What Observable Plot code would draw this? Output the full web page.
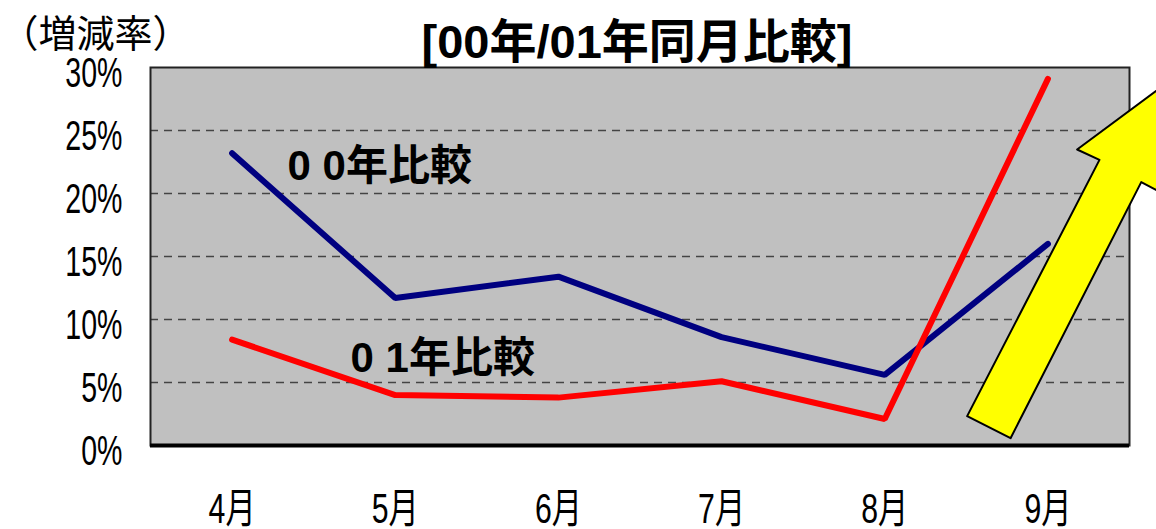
<!DOCTYPE html>
<html>
<head>
<meta charset="utf-8">
<script src="https://cdn.jsdelivr.net/npm/d3@7"></script>
<script src="https://cdn.jsdelivr.net/npm/@observablehq/plot@0.6"></script>
<style>
  html, body { margin: 0; padding: 0; background: #fff; }
</style>
</head>
<body>
<div id="chart"></div>
<script>
// Months (x categories as month numbers)
const months = [4, 5, 6, 7, 8, 9];
const monthLabels = ["4月", "5月", "6月", "7月", "8月", "9月"];
// Series values (% change)
const vs2000 = [23.2, 11.7, 13.4, 8.6, 5.6, 16.0];   // ００年比較
const vs2001 = [8.4, 4.0, 3.8, 5.1, 2.1, 29.1];      // ０１年比較
const yTicks = [0, 5, 10, 15, 20, 25, 30];
const yTickLabels = ["0%", "5%", "10%", "15%", "20%", "25%", "30%"];
const seriesNames = ["0 0年比較", "0 1年比較"];
const titleText = "[00年/01年同月比較]";
const yUnitText = "（増減率）";
// decorative upward arrow outline, in data units (month, %)
const arrowMonth = [8.505, 8.771, 9.572, 9.699, 9.708, 9.179, 9.316];
const arrowPct   = [2.33, 0.58, 20.90, 20.05, 28.57, 23.49, 22.67];

const rows00 = months.map((m, i) => ({month: m, value: vs2000[i]}));
const rows01 = months.map((m, i) => ({month: m, value: vs2001[i]}));
const arrow = arrowMonth.map((m, i) => ({month: m, value: arrowPct[i]}));

const FONT = "'Liberation Sans', 'Noto Sans CJK JP', sans-serif";

const chart = Plot.plot({
  width: 1156,
  height: 529,
  marginLeft: 150,
  marginRight: 27,
  marginTop: 67,
  marginBottom: 84,
  style: {fontFamily: FONT, background: "#fff", overflow: "visible"},
  x: {type: "linear", domain: [3.5, 9.5], label: null},
  y: {domain: [0, 30], label: null},
  marks: [
    Plot.frame({fill: "#C0C0C0"}),
    Plot.ruleY(yTicks.filter(d => d > 0 && d < 30), {stroke: "#444", strokeWidth: 1.3, strokeDasharray: "8,6"}),
    Plot.frame({stroke: "#222", strokeWidth: 2}),
    Plot.ruleY([0], {stroke: "#000", strokeWidth: 4}),
    Plot.line(rows00, {x: "month", y: "value", stroke: "#000080", strokeWidth: 6, strokeLinecap: "round", strokeLinejoin: "miter"}),
    Plot.line(rows01, {x: "month", y: "value", stroke: "#FF0000", strokeWidth: 6, strokeLinecap: "round", strokeLinejoin: "miter"}),
    Plot.text([seriesNames[0]], {x: 4.34, y: 22.1, textAnchor: "start", fontSize: 42, fontWeight: "bold", fill: "#000", fontFamily: FONT}),
    Plot.text([seriesNames[1]], {x: 4.726, y: 6.9, textAnchor: "start", fontSize: 42, fontWeight: "bold", fill: "#000", fontFamily: FONT}),
    Plot.line(arrow, {x: "month", y: "value", curve: "linear-closed", fill: "#FFFF00", stroke: "#000", strokeWidth: 2}),
    Plot.axisY({ticks: yTicks, tickFormat: (d) => yTickLabels[yTicks.indexOf(d)], tickSize: 0, tickPadding: 28, fontSize: 42, dy: 6, fontFamily: FONT, color: "#000", label: null}),
    Plot.axisX({ticks: months, tickFormat: (d) => monthLabels[months.indexOf(d)], tickSize: 0, tickPadding: 48, fontSize: 42, fontFamily: FONT, color: "#000", label: null}),
    Plot.text([titleText], {frameAnchor: "top", lineAnchor: "middle", dy: -25, dx: -3, fontSize: 47, fontWeight: "bold", fill: "#000", fontFamily: FONT}),
    Plot.text([yUnitText], {frameAnchor: "top-left", lineAnchor: "middle", dx: -150, dy: -33, textAnchor: "start", fontSize: 38, fill: "#000", fontFamily: FONT})
  ]
});

// horizontally condense the axis tick labels to mimic the narrow source font
function condense(selector, sx) {
  chart.querySelectorAll(selector).forEach((t) => {
    const tr = t.getAttribute("transform");
    if (tr) {
      t.setAttribute("transform", tr + ` scale(${sx},1)`);
    } else {
      const x = +(t.getAttribute("x") || 0), y = +(t.getAttribute("y") || 0);
      t.removeAttribute("x"); t.removeAttribute("y");
      t.setAttribute("transform", `translate(${x},${y}) scale(${sx},1)`);
    }
  });
}
condense('g[aria-label="y-axis tick label"] text', 0.68);
condense('g[aria-label="x-axis tick label"] text', 0.72);

document.getElementById("chart").appendChild(chart);
</script>
</body>
</html>
